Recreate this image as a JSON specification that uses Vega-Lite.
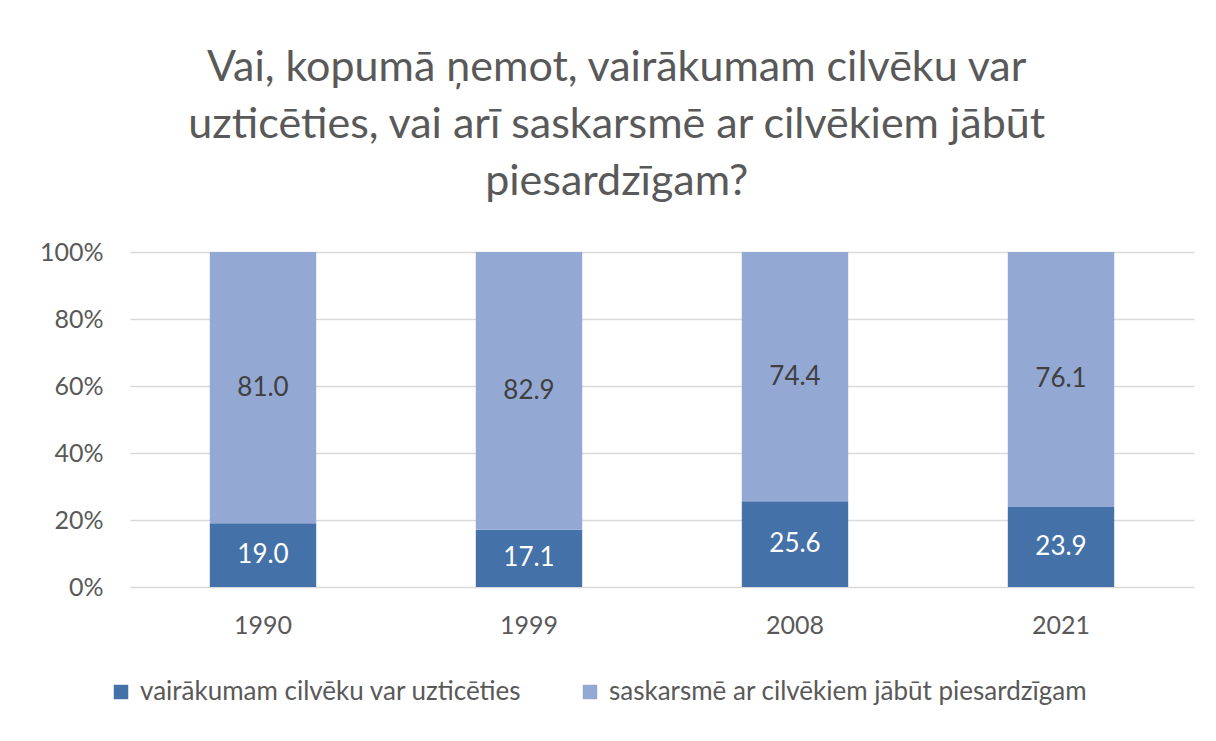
{
  "$schema": "https://vega.github.io/schema/vega-lite/v6.json",
  "width": 1064,
  "height": 335,
  "autosize": "none",
  "padding": {"left": 130, "top": 252, "right": 22, "bottom": 154},
  "background": "white",
  "title": {
    "text": ["Vai, kopumā ņemot, vairākumam cilvēku var", "uzticēties, vai arī saskarsmē ar cilvēkiem jābūt", "piesardzīgam?"],
    "font": "Lato",
    "fontSize": 43,
    "fontWeight": "normal",
    "lineHeight": 57,
    "color": "#595959",
    "anchor": "middle",
    "frame": "bounds",
    "offset": 36
  },
  "data": {
    "values": [
      {"year": "1990", "series": "vairākumam cilvēku var uzticēties", "value": 19.0},
      {"year": "1990", "series": "saskarsmē ar cilvēkiem jābūt piesardzīgam", "value": 81.0},
      {"year": "1999", "series": "vairākumam cilvēku var uzticēties", "value": 17.1},
      {"year": "1999", "series": "saskarsmē ar cilvēkiem jābūt piesardzīgam", "value": 82.9},
      {"year": "2008", "series": "vairākumam cilvēku var uzticēties", "value": 25.6},
      {"year": "2008", "series": "saskarsmē ar cilvēkiem jābūt piesardzīgam", "value": 74.4},
      {"year": "2021", "series": "vairākumam cilvēku var uzticēties", "value": 23.9},
      {"year": "2021", "series": "saskarsmē ar cilvēkiem jābūt piesardzīgam", "value": 76.1}
    ]
  },
  "config": {
    "view": {"stroke": null},
    "font": "Lato"
  },
  "resolve": {"scale": {"y": "independent"}},
  "layer": [
    {
      "mark": {"type": "bar"},
      "encoding": {
        "x": {
          "field": "year", "type": "ordinal",
          "scale": {"paddingInner": 0.6, "paddingOuter": 0.3},
          "axis": {"title": null, "labelAngle": 0, "labelFontSize": 25, "labelColor": "#595959", "labelPadding": 26, "domain": false, "ticks": false}
        },
        "y": {
          "field": "value", "type": "quantitative", "stack": "zero",
          "scale": {"domain": [0, 100]},
          "axis": {"title": null, "values": [0, 20, 40, 60, 80, 100], "labelExpr": "datum.value + '%'", "labelFontSize": 25, "labelColor": "#595959", "labelPadding": 27, "domain": false, "ticks": false, "gridColor": "#d9d9d9", "gridWidth": 1.5}
        },
        "color": {
          "field": "series", "type": "nominal",
          "scale": {"domain": ["vairākumam cilvēku var uzticēties", "saskarsmē ar cilvēkiem jābūt piesardzīgam"], "range": ["#4472A8", "#93A9D3"]},
          "legend": {"title": null, "orient": "none", "legendX": -22, "legendY": 427, "direction": "horizontal", "symbolType": "square", "symbolSize": 210, "symbolStrokeWidth": 0, "labelFontSize": 26, "labelColor": "#595959", "labelLimit": 800, "columnPadding": 55, "labelOffset": 6}
        },
        "order": {"field": "series", "sort": "descending"}
      }
    },
    {
      "transform": [{"filter": "datum.series === 'vairākumam cilvēku var uzticēties'"}],
      "mark": {"type": "text", "fontSize": 26, "baseline": "middle", "align": "center", "color": "white"},
      "encoding": {
        "x": {"field": "year", "type": "ordinal"},
        "y": {"field": "value", "type": "quantitative", "scale": {"domain": [0, 200]}, "axis": null},
        "text": {"field": "value", "type": "quantitative", "format": ".1f"}
      }
    },
    {
      "transform": [{"filter": "datum.series === 'saskarsmē ar cilvēkiem jābūt piesardzīgam'"}],
      "mark": {"type": "text", "fontSize": 26, "baseline": "middle", "align": "center", "color": "#404040"},
      "encoding": {
        "x": {"field": "year", "type": "ordinal"},
        "y": {"field": "value", "type": "quantitative", "scale": {"domain": [0, 200], "reverse": true}, "axis": null},
        "text": {"field": "value", "type": "quantitative", "format": ".1f"}
      }
    }
  ]
}
